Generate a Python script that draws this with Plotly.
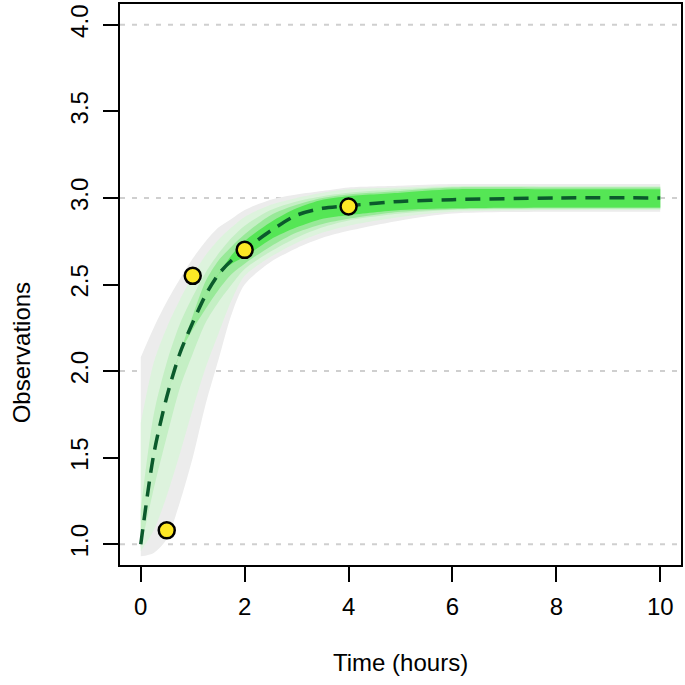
import plotly.graph_objects as go

# ---- data ----
time = [0, 0.25, 0.5, 0.75, 1, 1.25, 1.5, 1.75, 2, 2.5, 3, 3.5, 4, 5, 6, 8, 10]
median = [1.00, 1.52, 1.85, 2.10, 2.28, 2.44, 2.56, 2.64, 2.70, 2.81, 2.90, 2.94, 2.955, 2.98, 2.99, 3.00, 3.00]

outer_hi = [2.08, 2.25, 2.40, 2.53, 2.65, 2.75, 2.83, 2.88, 2.93, 2.99, 3.02, 3.04, 3.06, 3.07, 3.08, 3.08, 3.08]
outer_lo = [0.93, 0.95, 1.03, 1.24, 1.50, 1.81, 2.07, 2.33, 2.50, 2.63, 2.71, 2.77, 2.81, 2.87, 2.91, 2.92, 2.92]
b_hi = [1.70, 2.05, 2.25, 2.41, 2.55, 2.67, 2.76, 2.83, 2.89, 2.96, 3.00, 3.03, 3.05, 3.06, 3.07, 3.07, 3.07]
b_lo = [0.96, 1.08, 1.28, 1.52, 1.78, 2.02, 2.22, 2.41, 2.55, 2.66, 2.74, 2.80, 2.84, 2.89, 2.92, 2.93, 2.93]
c_hi = [1.20, 1.75, 2.05, 2.27, 2.43, 2.57, 2.68, 2.77, 2.84, 2.93, 2.98, 3.01, 3.03, 3.05, 3.065, 3.065, 3.065]
c_lo = [0.98, 1.32, 1.62, 1.90, 2.10, 2.28, 2.40, 2.50, 2.59, 2.69, 2.77, 2.83, 2.87, 2.91, 2.93, 2.935, 2.935]
d_hi = [1.00, 1.52, 1.85, 2.10, 2.32, 2.52, 2.64, 2.72, 2.79, 2.90, 2.96, 3.00, 3.02, 3.04, 3.06, 3.06, 3.06]
d_lo = [1.00, 1.52, 1.85, 2.10, 2.24, 2.36, 2.47, 2.56, 2.62, 2.72, 2.80, 2.85, 2.88, 2.92, 2.935, 2.94, 2.94]
e_hi = [1.00, 1.52, 1.85, 2.10, 2.28, 2.44, 2.56, 2.67, 2.75, 2.86, 2.94, 2.99, 3.01, 3.03, 3.05, 3.05, 3.05]
e_lo = [1.00, 1.52, 1.85, 2.10, 2.28, 2.44, 2.56, 2.62, 2.66, 2.76, 2.83, 2.88, 2.90, 2.93, 2.94, 2.945, 2.945]

obs_time = [0.5, 1, 2, 4]
obs_value = [1.08, 2.55, 2.70, 2.95]

x_ticks = [0, 2, 4, 6, 8, 10]
y_ticks = [1.0, 1.5, 2.0, 2.5, 3.0, 3.5, 4.0]
y_tick_labels = ["1.0", "1.5", "2.0", "2.5", "3.0", "3.5", "4.0"]
grid_levels = [1, 2, 3, 4]

FONT = "Liberation Sans, Arial, Helvetica, sans-serif"

fig = go.Figure()

bands = [
    (outer_lo, outer_hi, "#ececec"),
    (b_lo, b_hi, "#ddf3dd"),
    (c_lo, c_hi, "#c4efc4"),
    (d_lo, d_hi, "#98e998"),
    (e_lo, e_hi, "#55e655"),
]
for lo, hi, col in bands:
    fig.add_trace(go.Scatter(x=time, y=lo, mode="lines",
                             line=dict(width=0, shape="spline", smoothing=0.8),
                             hoverinfo="skip", showlegend=False))
    fig.add_trace(go.Scatter(x=time, y=hi, mode="lines", fill="tonexty",
                             fillcolor=col,
                             line=dict(width=0, shape="spline", smoothing=0.8),
                             hoverinfo="skip", showlegend=False))

fig.add_trace(go.Scatter(x=time, y=median, mode="lines",
                         line=dict(color="#0b5a2c", width=3.5, dash="15px,9px",
                                   shape="spline", smoothing=0.8),
                         showlegend=False))

fig.add_trace(go.Scatter(x=obs_time, y=obs_value, mode="markers",
                         marker=dict(size=16, color="#FDE725",
                                     line=dict(color="black", width=2.5)),
                         showlegend=False))

for g in grid_levels:
    fig.add_shape(type="line", xref="paper", x0=0, x1=1, yref="y", y0=g, y1=g,
                  line=dict(color="#cfcfcf", width=2, dash="5px,7px"), layer="below")

axis_common = dict(showline=True, mirror=True, linecolor="black", linewidth=2,
                   ticks="outside", ticklen=15, tickwidth=2, tickcolor="black",
                   showgrid=False, zeroline=False,
                   tickfont=dict(family=FONT, size=24, color="black"))

fig.update_xaxes(range=[-0.4, 10.4], tickvals=x_ticks, ticklabelstandoff=4, **axis_common)
fig.update_yaxes(range=[0.88, 4.12], tickvals=y_ticks, ticktext=y_tick_labels,
                 tickangle=-90, ticklabelstandoff=5, **axis_common)

fig.add_annotation(text="Time (hours)", xref="paper", yref="paper",
                   x=0.5, y=-0.174, xanchor="center", yanchor="middle",
                   showarrow=False, font=dict(family=FONT, size=24, color="black"))
fig.add_annotation(text="Observations", xref="paper", yref="paper",
                   x=-0.174, y=0.378, xanchor="center", yanchor="middle",
                   textangle=-90, showarrow=False,
                   font=dict(family=FONT, size=24, color="black"))

fig.update_layout(width=685, height=685,
                  margin=dict(l=120, r=2, t=2, b=120),
                  plot_bgcolor="white", paper_bgcolor="white")

fig.write_html("out.html", config={"displayModeBar": False},
               post_script="document.body.style.margin='0px';")
